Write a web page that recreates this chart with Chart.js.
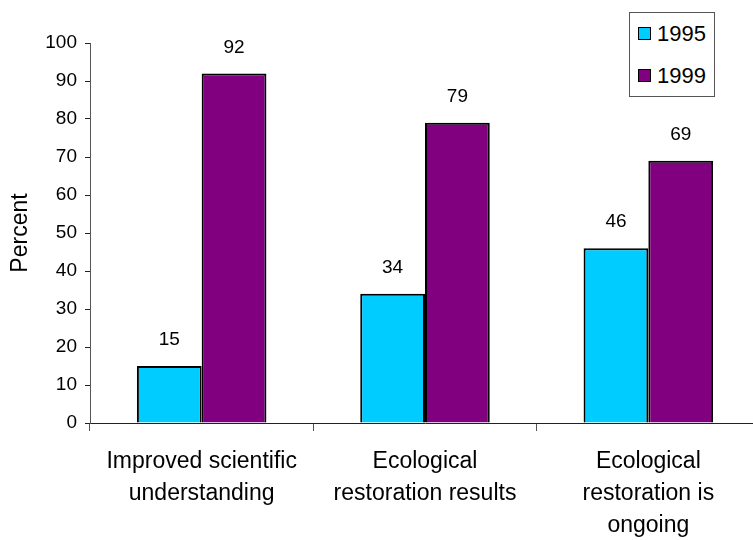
<!DOCTYPE html>
<html>
<head>
<meta charset="utf-8">
<script src="https://cdn.jsdelivr.net/npm/chart.js@4/dist/chart.umd.min.js"></script>
<style>
  html, body { margin: 0; padding: 0; background: #fff; overflow: hidden; }
  #wrap { position: relative; width: 762px; height: 540px; }
  #legendBox {
    position: absolute; left: 629px; top: 12px; width: 84px; height: 83px;
    border: 1px solid #555; background: #fff;
    font-family: "Liberation Sans", Arial, sans-serif; font-size: 22px; color: #000;
  }
  .item { position: absolute; left: 8px; height: 24px; line-height: 24px; }
  .item span.sw { display: inline-block; width: 11px; height: 11px; border: 1.5px solid #000; vertical-align: middle; margin-right: 6px; position: relative; top: -2px; }
</style>
</head>
<body>
<div id="wrap">
  <canvas id="myChart" width="762" height="540"></canvas>
  <div id="legendBox">
    <div class="item" style="top:9px"><span class="sw" style="background:#00CCFF"></span>1995</div>
    <div class="item" style="top:51px"><span class="sw" style="background:#800080"></span>1999</div>
  </div>
</div>
<script>
const categories = [
    ['Improved scientific', 'understanding'],
    ['Ecological', 'restoration results'],
    ['Ecological', 'restoration is', 'ongoing']
];
const values1995 = [15, 34, 46];
const values1999 = [92, 79, 69];
const cyan = '#00CCFF';
const purple = '#800080';
const fontFamily = '"Liberation Sans", Arial, sans-serif';

// numbers above each bar
const valueLabels = {
    id: 'valueLabels',
    afterDatasetsDraw(chart) {
        const ctx = chart.ctx;
        ctx.save();
        ctx.font = '19px ' + fontFamily;
        ctx.fillStyle = '#000';
        ctx.textAlign = 'center';
        ctx.textBaseline = 'middle';
        chart.data.datasets.forEach((ds, i) => {
            chart.getDatasetMeta(i).data.forEach((bar, j) => {
                ctx.fillText(ds.data[j], bar.x, bar.y - 26);
            });
        });
        ctx.restore();
    }
};

var ctx = document.getElementById('myChart').getContext('2d');
var myChart = new Chart(ctx, {
    type: 'bar',
    data: {
        labels: categories,
        datasets: [{
            label: '1995',
            data: values1995,
            backgroundColor: cyan,
            borderColor: '#000',
            borderWidth: 2
        }, {
            label: '1999',
            data: values1999,
            backgroundColor: purple,
            borderColor: '#000',
            borderWidth: 2
        }]
    },
    options: {
        responsive: false,
        animation: false,
        layout: { padding: { top: 43, right: 2, left: 0, bottom: 0 } },
        plugins: {
            legend: { display: false },
            tooltip: { enabled: false }
        },
        datasets: {
            bar: { barPercentage: 1, categoryPercentage: 0.58 }
        },
        scales: {
            x: {
                grid: { display: true, offset: true, drawOnChartArea: false, tickLength: 8, color: '#555' },
                border: { color: '#222', width: 1 },
                ticks: {
                    color: '#000',
                    font: { family: fontFamily, size: 23, lineHeight: 1.39 },
                    padding: 15,
                    maxRotation: 0,
                    autoSkip: false
                },
                afterFit(scale) { scale.height = 117; }
            },
            y: {
                min: 0,
                max: 100,
                grid: { display: true, drawOnChartArea: false, tickLength: 5, color: '#222' },
                border: { color: '#555', width: 1 },
                ticks: {
                    stepSize: 10,
                    color: '#000',
                    font: { family: fontFamily, size: 19 },
                    padding: 8
                },
                title: {
                    display: true,
                    text: 'Percent',
                    color: '#000',
                    font: { family: fontFamily, size: 23 },
                    padding: { top: 7, bottom: 0 }
                },
                afterFit(scale) { scale.width = 90; }
            }
        }
    },
    plugins: [valueLabels]
});
</script>
</body>
</html>
